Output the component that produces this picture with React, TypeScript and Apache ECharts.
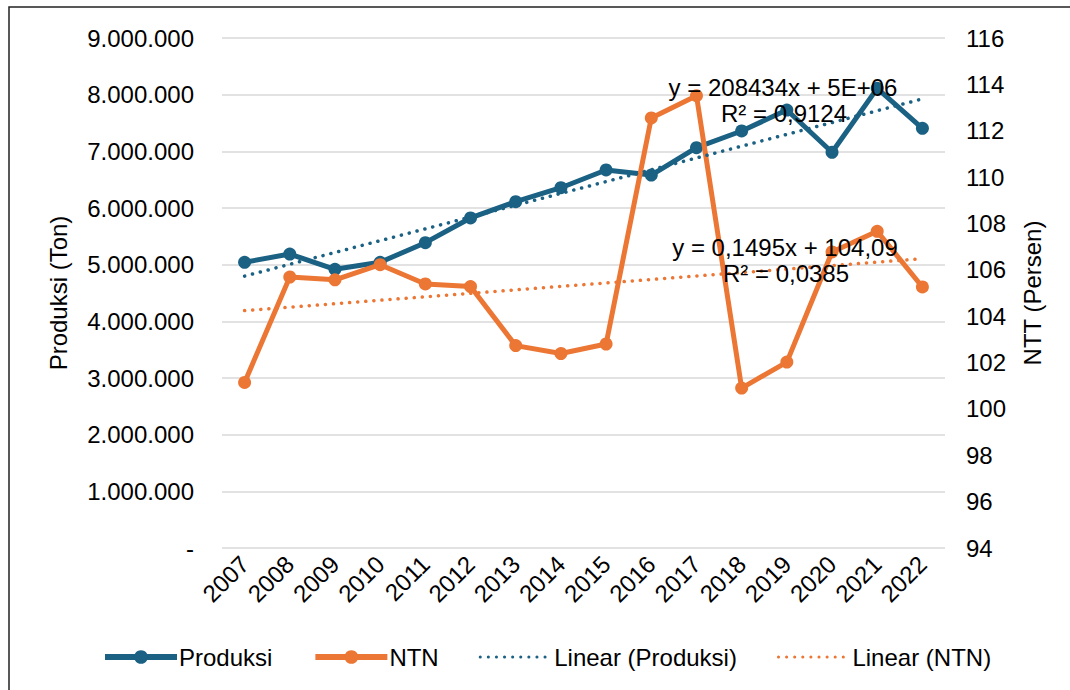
import React, { useEffect, useRef } from "react";
import * as echarts from "echarts";

const years = ["2007","2008","2009","2010","2011","2012","2013","2014","2015","2016","2017","2018","2019","2020","2021","2022"];
const produksi = [5042000,5188000,4918000,5042000,5388000,5824000,6111000,6358000,6671000,6582000,7064000,7359000,7729000,6983000,8112000,7406000];
const ntn = [101.14,105.69,105.57,106.22,105.39,105.28,102.73,102.39,102.8,112.55,113.51,100.9,102.02,106.77,107.66,105.26];
const trendYears = ["2007","2022"];
const produksiTrend = [4798000, 7925000];
const ntnTrend = [104.24, 106.48];
const produksiEq = ["y = 208434x + 5E+06", "R² = 0,9124"];
const ntnEq = ["y = 0,1495x + 104,09", "R² = 0,0385"];

const BLUE = "#1a6183";
const ORANGE = "#ec7634";
const FONT = "'Liberation Sans', Arial, sans-serif";
const DOTS = [0.1, 8];

function fmtDots(v: number): string {
  if (v === 0) return "-";
  return String(Math.round(v)).replace(/\B(?=(\d{3})+(?!\d))/g, ".");
}

export default function App() {
  const ref = useRef<HTMLDivElement>(null);
  useEffect(() => {
    if (!ref.current) return;
    const chart = echarts.init(ref.current, null, { renderer: "svg" });
    const eqText = (text: string, x: number, y: number) => ({
      type: "text",
      x,
      y,
      z: 100,
      style: { text, fill: "#000", font: `24px ${FONT}`, textAlign: "center", textVerticalAlign: "middle" },
    });
    chart.setOption({
      animation: false,
      backgroundColor: "#fff",
      textStyle: { fontFamily: FONT },
      grid: { left: 222, right: 125, top: 38, bottom: 142 },
      legend: {
        left: 102,
        top: 645,
        padding: 0,
        itemWidth: 72,
        itemHeight: 17,
        itemGap: 40,
        textStyle: { fontSize: 24, color: "#000", fontFamily: FONT, padding: [0, 0, 0, -3] },
        data: [
          { name: "Produksi", lineStyle: { width: 6, color: BLUE }, itemStyle: { color: BLUE } },
          { name: "NTN", lineStyle: { width: 6, color: ORANGE }, itemStyle: { color: ORANGE } },
          {
            name: "Linear (Produksi)",
            lineStyle: { width: 3, color: BLUE, type: DOTS, cap: "round" },
            itemStyle: { opacity: 0 },
          },
          {
            name: "Linear (NTN)",
            lineStyle: { width: 3, color: ORANGE, type: DOTS, cap: "round" },
            itemStyle: { opacity: 0 },
          },
        ],
      },
      xAxis: {
        type: "category",
        data: years,
        boundaryGap: true,
        axisLine: { show: false },
        axisTick: { show: false },
        axisLabel: { rotate: 45, fontSize: 24, color: "#000", margin: 12, fontFamily: FONT },
      },
      yAxis: [
        {
          type: "value",
          min: 0,
          max: 9000000,
          interval: 1000000,
          name: "Produksi (Ton)",
          nameLocation: "middle",
          nameGap: 152,
          nameTextStyle: { fontSize: 24, color: "#000", fontFamily: FONT },
          axisLine: { show: false },
          axisTick: { show: false },
          axisLabel: { fontSize: 24, color: "#000", margin: 28, formatter: fmtDots, fontFamily: FONT },
          splitLine: { lineStyle: { color: "#d9d9d9", width: 1.5 } },
        },
        {
          type: "value",
          min: 94,
          max: 116,
          interval: 2,
          name: "NTT (Persen)",
          nameLocation: "middle",
          nameGap: 75,
          nameTextStyle: { fontSize: 24, color: "#000", fontFamily: FONT },
          axisLine: { show: false },
          axisTick: { show: false },
          axisLabel: { fontSize: 24, color: "#000", margin: 21, fontFamily: FONT },
          splitLine: { show: false },
        },
      ],
      series: [
        {
          name: "Produksi",
          type: "line",
          data: produksi,
          yAxisIndex: 0,
          symbol: "circle",
          symbolSize: 13,
          lineStyle: { color: BLUE, width: 5 },
          itemStyle: { color: BLUE },
          z: 3,
        },
        {
          name: "NTN",
          type: "line",
          data: ntn,
          yAxisIndex: 1,
          symbol: "circle",
          symbolSize: 13,
          lineStyle: { color: ORANGE, width: 5 },
          itemStyle: { color: ORANGE },
          z: 4,
        },
        {
          name: "Linear (Produksi)",
          type: "line",
          data: trendYears.map((y, i) => [y, produksiTrend[i]]),
          yAxisIndex: 0,
          symbol: "none",
          lineStyle: { color: BLUE, width: 3.5, type: DOTS, cap: "round" },
          itemStyle: { color: BLUE },
          z: 5,
        },
        {
          name: "Linear (NTN)",
          type: "line",
          data: trendYears.map((y, i) => [y, ntnTrend[i]]),
          yAxisIndex: 1,
          symbol: "none",
          lineStyle: { color: ORANGE, width: 3.5, type: DOTS, cap: "round" },
          itemStyle: { color: ORANGE },
          z: 5,
        },
      ],
      graphic: [
        {
          type: "rect",
          shape: { x: 9, y: 7, width: 1200, height: 800 },
          style: { fill: "none", stroke: "#222", lineWidth: 1.5 },
          silent: true,
        },
        eqText(produksiEq[0], 783, 87),
        eqText(produksiEq[1], 784, 113),
        eqText(ntnEq[0], 785, 247),
        eqText(ntnEq[1], 786, 273),
      ],
    });
    return () => chart.dispose();
  }, []);
  return (
    <div
      ref={ref}
      style={{ position: "fixed", left: 0, top: 0, width: 1070, height: 690, background: "#fff" }}
    />
  );
}
